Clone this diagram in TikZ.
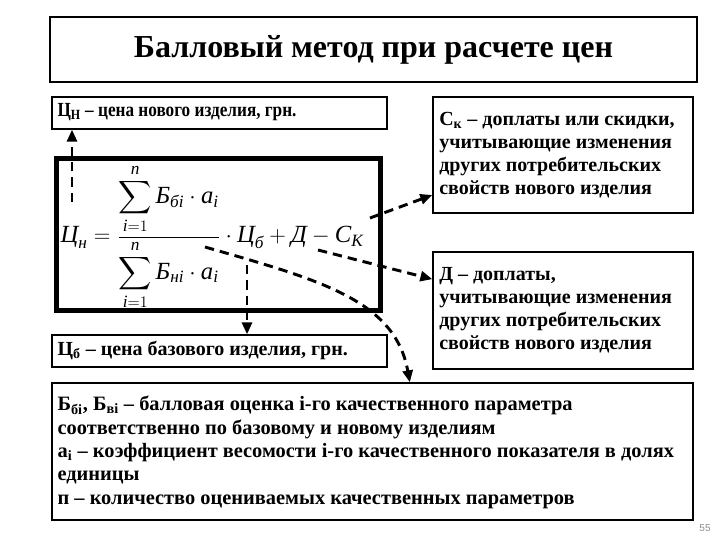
\documentclass[tikz,border=0pt]{standalone}
\usepackage{amsmath}
\usepackage[no-math]{fontspec}
\setmainfont{Liberation Serif}
\setsansfont{Liberation Sans}
\usetikzlibrary{positioning,arrows.meta}
\tikzset{
  dasharrow/.style={-{Triangle[length=9pt,width=7.5pt]}, line width=2.2pt, dash pattern=on 7pt off 4.5pt},
  plainbox/.style={draw, line width=1pt, inner sep=0pt},
  boxtext/.style={anchor=north west, align=left, inner sep=0pt, font=\bfseries\fontsize{15}{17.4}\selectfont},
  linetext/.style={anchor=west, inner sep=0pt, font=\bfseries\fontsize{15}{17.4}\selectfont}
}
\newcommand{\cyi}[1]{\text{\normalfont\itshape #1}}

\begin{document}
\begin{tikzpicture}[x=0.75pt, y=-0.75pt]
  \useasboundingbox (0,0) rectangle (720,540);
  \node[plainbox, line width=1.5pt, minimum width=485pt, minimum height=48.75pt, font=\bfseries\fontsize{24}{28}\selectfont] (title) at (373.5,49.5) {Балловый метод при расчете цен};
  \node[plainbox, minimum width=251.25pt, minimum height=24pt] (cn) at (219.5,113) {};
  \node[plainbox, minimum width=251.25pt, minimum height=24pt] (cb) at (219.5,351) {};
  \node[plainbox, minimum width=195pt, minimum height=87pt] (ck) at (563,155) {};
  \node[plainbox, minimum width=195pt, minimum height=87.75pt] (dd) at (563,310.5) {};
  \node[plainbox, minimum width=480.75pt, minimum height=102.75pt] (notes) at (372.5,451.5) {};
  \node[plainbox, line width=3.75pt, minimum width=243pt, minimum height=114pt] (fbox) at (218,234) {};
  % texts of the boxes
  \node[linetext] (cntext) at ([xshift=4.5pt, yshift=0.5pt]cn.west) {\scalebox{0.86}[1]{Ц\textsubscript{Н} – цена нового изделия, грн.}};
  \node[linetext] (cbtext) at ([xshift=4.5pt, yshift=0.5pt]cb.west) {Ц\textsubscript{б} – цена базового изделия, грн.};
  \node[boxtext] (cktext) at ([xshift=5pt, yshift=-11.5pt]ck.north west) {С\textsubscript{к} – доплаты или скидки,\\ учитывающие изменения\\ других потребительских\\ свойств нового изделия};
  \node[boxtext] (ddtext) at ([xshift=5pt, yshift=-11.5pt]dd.north west) {Д – доплаты,\\ учитывающие изменения\\ других потребительских\\ свойств нового изделия};
  \node[boxtext, font=\bfseries\fontsize{15.3}{17.6}\selectfont] (notestext) at ([xshift=4.5pt, yshift=-10pt]notes.north west) {Б\textsubscript{бi}, Б\textsubscript{вi} – балловая оценка i-го качественного параметра\\ соответственно по базовому и новому изделиям\\ а\textsubscript{i} – коэффициент весомости i-го качественного показателя в долях\\ единицы\\ п – количество оцениваемых качественных параметров};
  \node[inner sep=0pt, font=\fontsize{18.5}{22}\selectfont] (formula) at (212,237) {$\displaystyle \cyi{Ц}_{\cyi{н}} = \frac{\displaystyle\sum_{\cyi{i}=1}^{\cyi{n}} \cyi{Б}_{\cyi{бi}}\cdot \cyi{a}_{\cyi{i}}}{\displaystyle\sum_{\cyi{i}=1}^{\cyi{n}} \cyi{Б}_{\cyi{нi}}\cdot \cyi{a}_{\cyi{i}}}\cdot \cyi{Ц}_{\cyi{б}} + \cyi{Д} - \cyi{С}_{\cyi{К}}$};
  \node[font=\sffamily\fontsize{7.5}{9}\selectfont, text=black!45] (pnum) at (705,528) {55};
  % arrows from the formula
  \coordinate (fcn) at (72,202);
  \coordinate (fcb) at (247,265);
  \coordinate (fck) at (370,218);
  \coordinate (fd) at (318,250);
  \coordinate (ffrac) at (205,247);
  \draw[dasharrow] (fcn) -- (fcn |- cn.south);
  \draw[dasharrow] (fcb) -- (fcb |- cb.north);
  \draw[dasharrow] (fck) -- ([yshift=-30pt]ck.west);
  \draw[dasharrow] (fd) -- ([yshift=23.5pt]dd.west);
  \draw[dasharrow] (ffrac) .. controls (320,280) and (395,300) .. ([xshift=28pt]notes.north);
\end{tikzpicture}
\end{document}
